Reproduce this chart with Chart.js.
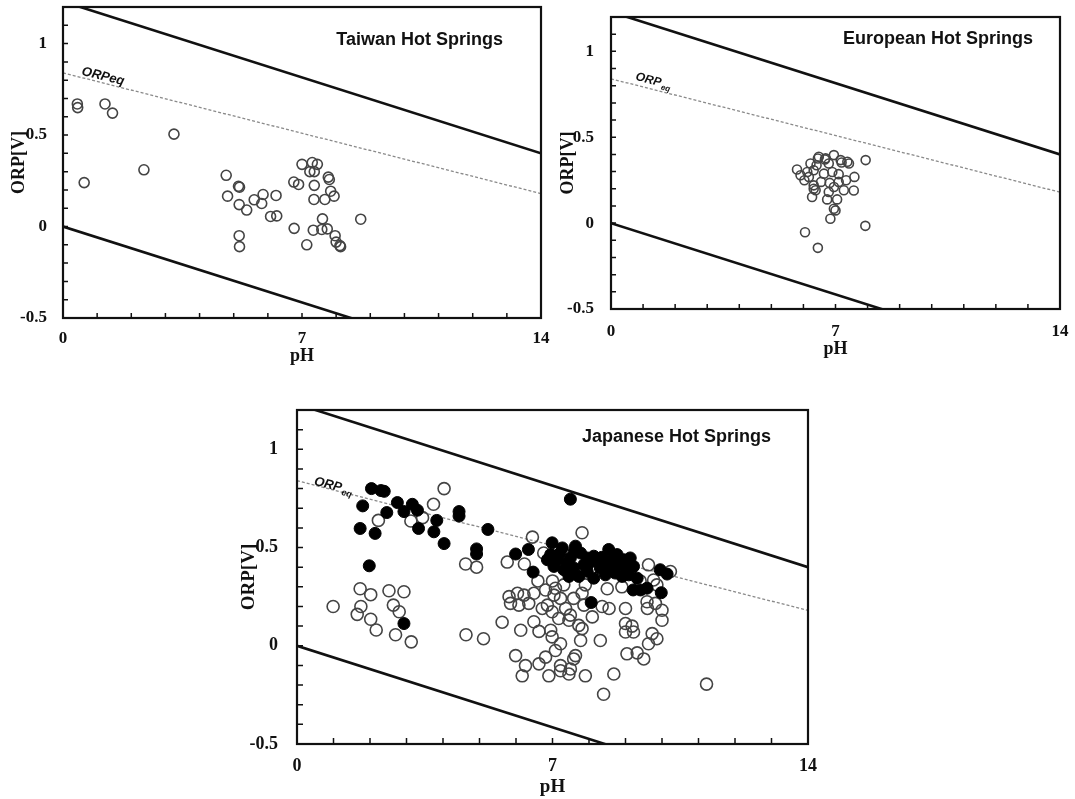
<!DOCTYPE html>
<html>
<head>
<meta charset="utf-8">
<script src="https://cdn.jsdelivr.net/npm/chart.js@4.4.1/dist/chart.umd.min.js"></script>
<style>
  html, body { margin: 0; padding: 0; background: #fff; }
  body { width: 1075px; height: 799px; position: relative; overflow: hidden; }
  .panel { position: absolute; }
</style>
</head>
<body>
<div class="panel" style="left:0;top:0;width:560px;height:370px"><canvas id="taiwanChart"></canvas></div>
<div class="panel" style="left:555px;top:0;width:520px;height:370px"><canvas id="europeChart"></canvas></div>
<div class="panel" style="left:230px;top:385px;width:600px;height:414px"><canvas id="japanChart"></canvas></div>
<script>
// reference lines: value at pH 0 and pH 14
const phRange = [0, 14];
const upperLimit = [1.23, 0.40];
const lowerLimit = [0.00, -0.83];
const orpEq = [0.84, 0.18];

const xTickLabels = [0, 7, 14];
const yTickLabels = [-0.5, 0, 0.5, 1];

// Taiwan hot springs
const taiwanPH = [0.42, 0.43, 1.23, 1.45, 3.25, 0.62, 2.37, 4.78, 4.82, 5.14,
  5.17, 5.16, 5.38, 5.6, 5.82, 5.86, 6.24, 6.08, 6.26, 6.76,
  6.9, 7.0, 7.3, 7.45, 7.23, 7.36, 7.36, 7.77, 7.8, 7.84,
  7.94, 7.35, 7.67, 8.72, 6.77, 7.14, 7.33, 7.6, 7.58, 7.74,
  7.97, 8.0, 8.11, 8.13, 5.16, 5.17];
const taiwanORP = [0.67, 0.65, 0.67, 0.62, 0.505, 0.24, 0.31, 0.28, 0.166, 0.22,
  0.215, 0.12, 0.09, 0.146, 0.126, 0.175, 0.17, 0.055, 0.058, 0.243,
  0.23, 0.34, 0.35, 0.34, 0.3, 0.3, 0.225, 0.27, 0.257, 0.193,
  0.166, 0.148, 0.148, 0.04, -0.01, -0.1, -0.02, 0.042, -0.016, -0.013,
  -0.05, -0.085, -0.104, -0.11, -0.05, -0.11];

// European hot springs
const europePH = [5.8, 5.91, 6.03, 6.17, 6.12, 6.22, 6.32, 6.41, 6.45, 6.48,
  6.67, 6.69, 6.79, 6.95, 7.16, 7.19, 7.37, 7.42, 7.94, 7.59,
  7.57, 7.33, 7.1, 6.9, 6.64, 6.82, 6.55, 6.32, 6.32, 6.27,
  6.38, 6.74, 6.79, 6.95, 7.05, 7.1, 7.26, 6.95, 7.0, 6.84,
  6.05, 6.45, 7.93];
const europeORP = [0.312, 0.279, 0.25, 0.269, 0.298, 0.347, 0.308, 0.337, 0.376, 0.386,
  0.37, 0.377, 0.347, 0.396, 0.367, 0.353, 0.357, 0.347, 0.367, 0.269,
  0.19, 0.25, 0.285, 0.298, 0.288, 0.234, 0.24, 0.22, 0.2, 0.152,
  0.191, 0.138, 0.181, 0.21, 0.138, 0.24, 0.191, 0.084, 0.074, 0.025,
  -0.053, -0.144, -0.016];

// Japanese hot springs, open circles
const japanOpenPH = [0.99, 1.75, 1.65, 1.73, 2.02, 2.02, 2.17, 2.52, 2.93, 2.64,
  2.8, 2.7, 3.13, 2.23, 3.12, 3.44, 3.74, 4.03, 4.62, 4.92,
  4.63, 5.11, 5.62, 5.76, 5.81, 6.04, 6.22, 5.85, 6.08, 6.35,
  6.49, 6.81, 7.08, 7.31, 6.72, 6.99, 7.22, 7.36, 7.49, 7.81,
  8.09, 7.17, 7.45, 7.72, 7.81, 6.13, 6.49, 6.63, 6.95, 6.99,
  7.22, 7.77, 8.31, 9.0, 9.0, 9.22, 9.59, 9.82, 10.0, 10.0,
  9.73, 9.86, 9.63, 9.04, 9.32, 9.5, 5.99, 6.26, 6.17, 6.63,
  6.81, 7.08, 7.22, 7.49, 7.58, 7.63, 6.9, 7.22, 7.45, 7.9,
  8.68, 8.4, 11.22, 9.0, 8.36, 8.55, 9.6, 9.18, 6.45, 6.76,
  6.23, 7.81, 9.63, 10.23, 9.77, 9.86, 7.04, 7.58, 7.86, 6.86,
  7.9, 8.5, 8.9, 9.4, 6.6, 7.0];
const japanOpenORP = [0.2, 0.2, 0.16, 0.29, 0.26, 0.135, 0.08, 0.28, 0.275, 0.207,
  0.173, 0.056, 0.02, 0.638, 0.635, 0.652, 0.72, 0.8, 0.416, 0.4,
  0.056, 0.036, 0.12, 0.426, 0.25, 0.267, 0.258, 0.216, 0.207, 0.216,
  0.267, 0.284, 0.293, 0.31, 0.19, 0.173, 0.241, 0.19, 0.156, 0.267,
  0.147, 0.139, 0.13, 0.104, 0.087, 0.079, 0.122, 0.073, 0.079, 0.045,
  0.01, 0.027, 0.027, 0.19, 0.113, 0.07, 0.224, 0.216, 0.181, 0.13,
  0.062, 0.036, 0.01, -0.041, -0.036, -0.067, -0.05, -0.101, -0.153, -0.092,
  -0.058, -0.024, -0.101, -0.118, -0.067, -0.05, -0.153, -0.127, -0.144, -0.153,
  -0.144, -0.247, -0.195, 0.07, 0.2, 0.19, 0.19, 0.1, 0.553, 0.472,
  0.416, 0.575, 0.412, 0.378, 0.335, 0.31, 0.258, 0.241, 0.207, 0.207,
  0.31, 0.29, 0.3, 0.33, 0.33, 0.33];

// Japanese hot springs, filled circles
const japanFilledPH = [1.73, 1.8, 2.04, 2.3, 2.39, 2.14, 2.46, 2.75, 2.93, 3.16,
  3.3, 3.33, 3.75, 3.83, 4.03, 4.44, 4.44, 4.92, 4.92, 5.23,
  1.98, 2.93, 5.99, 6.34, 6.47, 7.49, 8.06, 9.21, 9.41, 9.59,
  9.98, 9.95, 10.14, 6.99, 7.27, 7.63, 6.95, 7.13, 7.49, 7.77,
  7.95, 8.13, 8.54, 8.77, 8.95, 9.13, 9.22, 7.04, 7.31, 7.58,
  7.72, 7.95, 8.13, 8.31, 8.5, 8.72, 8.91, 9.09, 9.32, 6.86,
  8.22, 8.63, 7.86, 7.45, 8.45, 9.04, 7.2, 7.4, 8.0, 8.35,
  8.8, 7.6, 8.6];
const japanFilledORP = [0.597, 0.712, 0.8, 0.79, 0.786, 0.572, 0.678, 0.729, 0.683, 0.72,
  0.69, 0.597, 0.58, 0.638, 0.52, 0.683, 0.66, 0.493, 0.467, 0.592,
  0.407, 0.113, 0.467, 0.49, 0.375, 0.746, 0.22, 0.284, 0.284, 0.293,
  0.27, 0.387, 0.365, 0.524, 0.498, 0.507, 0.464, 0.438, 0.447, 0.472,
  0.447, 0.456, 0.49, 0.464, 0.438, 0.447, 0.404, 0.404, 0.387, 0.396,
  0.353, 0.379, 0.344, 0.396, 0.412, 0.37, 0.353, 0.361, 0.344, 0.438,
  0.43, 0.438, 0.412, 0.353, 0.361, 0.396, 0.47, 0.42, 0.42, 0.45,
  0.41, 0.48, 0.39];

const toPoints = (xs, ys) => xs.map((x, i) => ({ x: x, y: ys[i] }));

const serif = '"Liberation Serif", "Times New Roman", serif';
const sans = '"Liberation Sans", Arial, sans-serif';

// frame, inward minor ticks, panel title and ORPeq label
const framePlugin = {
  id: 'frame',
  afterDraw(chart, args, o) {
    const { ctx, chartArea: a } = chart;
    const xs = chart.scales.x, ys = chart.scales.y;
    ctx.save();
    ctx.strokeStyle = '#111';
    ctx.lineWidth = 1.5;
    ctx.beginPath();
    for (let v = phRange[0] + 1; v < phRange[1]; v++) {
      const px = xs.getPixelForValue(v);
      ctx.moveTo(px, a.bottom);
      ctx.lineTo(px, a.bottom - o.tick);
    }
    for (let i = -4; i <= 12; i++) {
      const py = ys.getPixelForValue(i / 10);
      ctx.moveTo(a.left, py);
      ctx.lineTo(a.left + o.tick, py);
    }
    ctx.stroke();
    ctx.lineWidth = 2.2;
    ctx.strokeRect(a.left, a.top, a.right - a.left, a.bottom - a.top);

    ctx.fillStyle = '#111';
    ctx.font = 'bold ' + o.titleSize + 'px ' + sans;
    ctx.textAlign = 'right';
    ctx.textBaseline = 'middle';
    ctx.fillText(o.title, a.right - o.titleRight, a.top + o.titleTop);

    const ang = Math.atan2(
      ys.getPixelForValue(orpEq[1]) - ys.getPixelForValue(orpEq[0]),
      xs.getPixelForValue(phRange[1]) - xs.getPixelForValue(phRange[0]));
    ctx.translate(xs.getPixelForValue(o.eqAt[0]), ys.getPixelForValue(o.eqAt[1]));
    ctx.rotate(ang);
    ctx.textAlign = 'left';
    ctx.textBaseline = 'alphabetic';
    ctx.font = 'italic bold ' + o.eqSize + 'px ' + sans;
    ctx.fillText('ORP', 0, 0);
    const w = ctx.measureText('ORP').width;
    if (o.eqSub) {
      ctx.font = 'italic bold ' + Math.round(o.eqSize * 0.7) + 'px ' + sans;
      ctx.fillText('eq', w + 1, 3);
    } else {
      ctx.fillText('eq', w, 0);
    }
    ctx.restore();
  }
};

function makeChart(id, c) {
  const tickFont = { family: serif, weight: 'bold', size: c.tickSize };
  const titleFont = { family: serif, weight: 'bold', size: c.tickSize + 1 };
  const datasets = [];
  if (c.filled) {
    datasets.push({
      data: c.filled,
      pointRadius: c.radius,
      pointBackgroundColor: '#000',
      pointBorderColor: '#000',
      pointBorderWidth: 1
    });
  }
  datasets.push({
    data: c.open,
    pointRadius: c.radius,
    pointBackgroundColor: 'rgba(255,255,255,0)',
    pointBorderColor: '#444',
    pointBorderWidth: 1.6
  });
  datasets.push({
    type: 'line',
    data: toPoints(phRange, orpEq),
    borderColor: '#8a8a8a',
    borderWidth: 1.3,
    borderDash: [3, 2],
    pointRadius: 0
  });
  [upperLimit, lowerLimit].forEach(vals => {
    datasets.push({
      type: 'line',
      data: toPoints(phRange, vals),
      borderColor: '#111',
      borderWidth: 2.6,
      pointRadius: 0
    });
  });

  return new Chart(document.getElementById(id), {
    type: 'scatter',
    data: { datasets: datasets },
    plugins: [framePlugin],
    options: {
      responsive: true,
      maintainAspectRatio: false,
      animation: false,
      events: [],
      layout: { padding: { top: c.padTop, right: c.padRight, left: 0, bottom: 0 } },
      plugins: {
        legend: { display: false },
        tooltip: { enabled: false },
        frame: c.frame
      },
      scales: {
        x: {
          type: 'linear',
          min: phRange[0],
          max: phRange[1],
          afterBuildTicks: s => { s.ticks = xTickLabels.map(v => ({ value: v })); },
          afterFit: s => { s.height = c.xHeight; s.paddingLeft = 0; s.paddingRight = 0; },
          grid: { display: false, drawTicks: false },
          border: { display: false },
          ticks: { padding: c.xPad, font: tickFont, color: '#111', maxRotation: 0, autoSkip: false },
          title: { display: true, text: 'pH', font: titleFont, color: '#111', padding: { top: 0, bottom: c.xTitlePad } }
        },
        y: {
          type: 'linear',
          min: -0.5,
          max: 1.2,
          afterBuildTicks: s => { s.ticks = yTickLabels.map(v => ({ value: v })); },
          afterFit: s => { s.width = c.yWidth; s.paddingTop = 0; s.paddingBottom = 0; },
          grid: { display: false, drawTicks: false },
          border: { display: false },
          ticks: { padding: c.yPad, font: tickFont, color: '#111', callback: v => String(v) },
          title: { display: true, text: 'ORP[V]', font: titleFont, color: '#111', padding: { top: c.yTitlePad, bottom: 0 } }
        }
      }
    }
  });
}

makeChart('taiwanChart', {
  open: toPoints(taiwanPH, taiwanORP),
  radius: 5, tickSize: 17,
  padTop: 7, padRight: 19, yWidth: 63, xHeight: 52,
  xPad: 10, yPad: 16, xTitlePad: 3, yTitlePad: 9,
  frame: { tick: 5, title: 'Taiwan Hot Springs', titleSize: 18, titleRight: 38, titleTop: 33, eqAt: [0.53, 0.83], eqSize: 13, eqSub: false }
});

makeChart('europeChart', {
  open: toPoints(europePH, europeORP),
  radius: 4.5, tickSize: 17,
  padTop: 17, padRight: 15, yWidth: 56, xHeight: 61,
  xPad: 12, yPad: 17, xTitlePad: 10, yTitlePad: 3,
  frame: { tick: 5, title: 'European Hot Springs', titleSize: 18, titleRight: 27, titleTop: 22, eqAt: [0.75, 0.834], eqSize: 12, eqSub: true }
});

makeChart('japanChart', {
  open: toPoints(japanOpenPH, japanOpenORP),
  filled: toPoints(japanFilledPH, japanFilledORP),
  radius: 6, tickSize: 18,
  padTop: 25, padRight: 22, yWidth: 67, xHeight: 55,
  xPad: 12, yPad: 19, xTitlePad: 1, yTitlePad: 8,
  frame: { tick: 6, title: 'Japanese Hot Springs', titleSize: 18, titleRight: 37, titleTop: 27, eqAt: [0.45, 0.82], eqSize: 13, eqSub: true }
});
</script>
</body>
</html>
